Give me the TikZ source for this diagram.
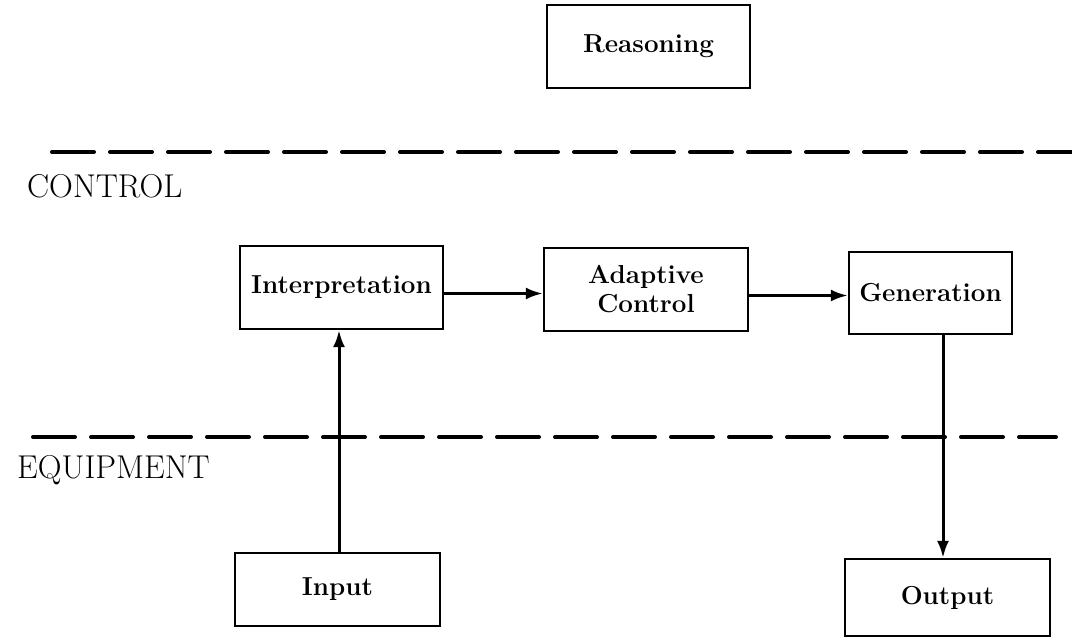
\documentclass[tikz,border=0pt]{standalone}
\usetikzlibrary{arrows.meta}
\begin{document}
\begin{tikzpicture}[x=1pt,y=1pt,
  blk/.style={draw=black, line width=2.3pt, rectangle, inner sep=0pt, align=center,
    font=\fontsize{26}{29}\selectfont\bfseries},
  lbl/.style={anchor=west, inner sep=0pt, font=\fontsize{33}{38}\selectfont},
  flow/.style={line width=3pt, -{Latex[length=17pt,width=12pt]}},
  layer/.style={line width=4pt, line cap=round, dash pattern=on 42pt off 16pt}]
\useasboundingbox (0,0) rectangle (1072,641);

% blocks
\node[blk, minimum width=203pt, minimum height=83pt] (reas) at (648.5,594.5) {Reasoning};
\node[blk, minimum width=203pt, minimum height=83pt] (interp) at (341.5,353.5) {Interpretation};
\node[blk, minimum width=204pt, minimum height=83pt] (adap) at (646,351.5) {Adaptive\\Control};
\node[blk, minimum width=163pt, minimum height=82pt] (gen) at (930.5,348) {Generation};
\node[blk, minimum width=205pt, minimum height=73pt] (inp) at (337.5,51.5) {Input};
\node[blk, minimum width=205pt, minimum height=77pt] (outp) at (947.5,43.5) {Output};

% layer labels
\node[lbl] (ctl) at (27,455) {CONTROL};
\node[lbl] (equ) at (17,171) {EQUIPMENT};

% layer boundaries
\coordinate (t1) at (52,489);
\coordinate (t2) at (1075,489);
\coordinate (b1) at (33,204);
\coordinate (b2) at (1056,204);
\draw[layer] (t1) -- (t2);
\draw[layer] (b1) -- (b2);

% signal flow
\draw[flow] ([yshift=-6pt]interp.east) -- ([yshift=-6pt]interp.east -| adap.west);
\draw[flow] ([yshift=-6pt]adap.east) -- ([yshift=-6pt]adap.east -| gen.west);
\draw[flow] ([xshift=1.5pt]inp.north) -- ([xshift=1.5pt]inp.north |- interp.south);
\draw[flow] ([xshift=-4.5pt]outp.north |- gen.south) -- ([xshift=-4.5pt]outp.north);
\end{tikzpicture}
\end{document}
